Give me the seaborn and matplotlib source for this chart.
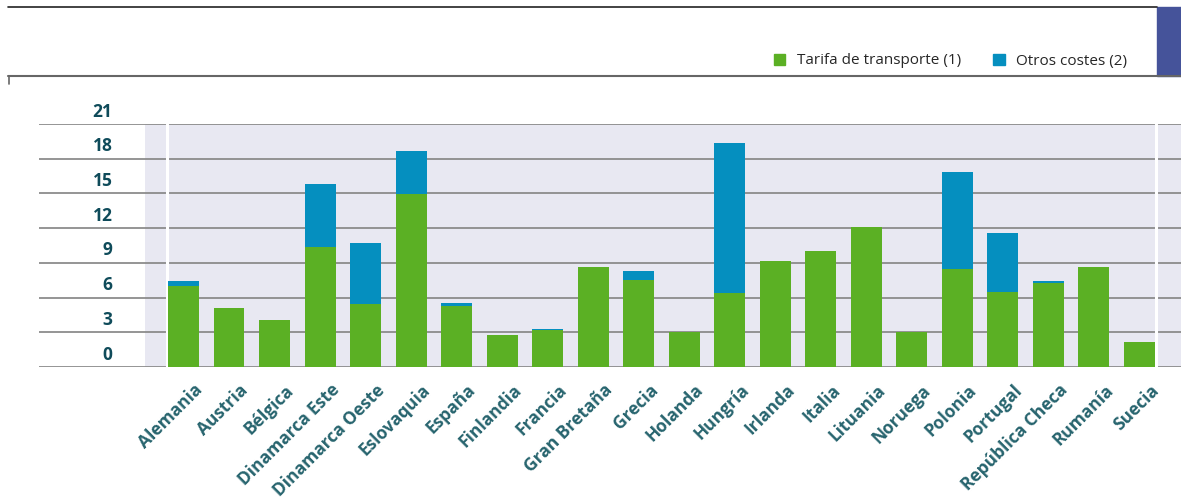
import matplotlib.pyplot as plt
import seaborn as sns
from matplotlib.lines import Line2D
from matplotlib.patches import Patch, Rectangle
from matplotlib.transforms import ScaledTranslation

paises = ["Alemania", "Austria", "Bélgica", "Dinamarca Este", "Dinamarca Oeste",
          "Eslovaquia", "España", "Finlandia", "Francia", "Gran Bretaña", "Grecia",
          "Holanda", "Hungría", "Irlanda", "Italia", "Lituania", "Noruega", "Polonia",
          "Portugal", "República Checa", "Rumanía", "Suecia"]
tarifa = [7.0, 5.1, 4.07, 10.38, 5.45, 14.97, 5.28, 2.77, 3.2, 8.65, 7.53,
          3.03, 6.4, 9.17, 10.04, 12.11, 3.03, 8.48, 6.49, 7.27, 8.65, 2.16]
otros = [0.44, 0.0, 0.0, 5.45, 5.28, 3.72, 0.26, 0.0, 0.09, 0.0, 0.78,
         0.0, 12.98, 0.0, 0.0, 0.0, 0.0, 8.39, 5.11, 0.17, 0.0, 0.0]
yticks = [0, 3, 6, 9, 12, 15, 18, 21]

verde = "#5bb024"
azul = "#058fbf"
lavanda = "#e8e8f2"
texto = "#27646e"

sns.set_style("white")
plt.rcParams["font.family"] = ["Open Sans", "DejaVu Sans"]

W, H = 1181, 497
fig = plt.figure(figsize=(W / 100, H / 100), dpi=100)
ax = fig.add_axes([39 / W, (H - 367) / H, (W - 39) / W, 243 / H])

total = [t + o for t, o in zip(tarifa, otros)]
sns.barplot(x=paises, y=total, color=azul, width=0.68, saturation=1, ax=ax,
            zorder=3, linewidth=0, edgecolor="none")
sns.barplot(x=paises, y=tarifa, color=verde, width=0.68, saturation=1, ax=ax,
            zorder=4, linewidth=0, edgecolor="none")

ax.set_xlim(-3.174, 21.913)
ax.set_ylim(0, 21)
ax.axvspan(-0.846, 21.913, color=lavanda, zorder=0, lw=0)
for xv in (-0.362, 21.354):
    ax.axvline(xv, color="white", lw=2.2, zorder=1)

ax.set_axisbelow(True)
ax.set_yticks(yticks)
ax.yaxis.grid(True, color="#8c8c8c", lw=1.3, zorder=0.5)
ax.xaxis.grid(False)
for s in ax.spines.values():
    s.set_visible(False)
ax.set_xlabel("")
ax.set_ylabel("")

ax.tick_params(axis="y", length=0, pad=-53, labelsize=12.5, labelcolor="#0f4b5a")
for lab in ax.get_yticklabels():
    lab.set_fontweight("bold")
    lab.set_transform(lab.get_transform() + ScaledTranslation(0, 0.145, fig.dpi_scale_trans))

ax.tick_params(axis="x", length=0, pad=0)
ax.set_xticks(range(len(paises)))
ax.set_xticklabels(paises, rotation=45, ha="right", va="center", rotation_mode="anchor",
                   fontsize=12.5, fontweight="bold", color=texto)
for lab in ax.get_xticklabels():
    lab.set_transform(lab.get_transform() + ScaledTranslation(0.165, -0.205, fig.dpi_scale_trans))

# cabecera: lineas y bloque azul
fig.add_artist(Line2D([8 / W, 1157 / W], [1 - 7 / H, 1 - 7 / H], color="#222222", lw=1.2))
fig.add_artist(Line2D([8 / W, 1], [1 - 76 / H, 1 - 76 / H], color="#666666", lw=1.5))
fig.add_artist(Line2D([8.5 / W, 8.5 / W], [1 - 76 / H, 1 - 84 / H], color="#666666", lw=1.2))
fig.add_artist(Rectangle((1157 / W, 1 - 76 / H), 24 / W, 69 / H, color="#45539a",
                         transform=fig.transFigure))

handles = [Patch(color=verde), Patch(color=azul)]
fig.legend(handles, ["Tarifa de transporte (1)", "Otros costes (2)"], loc="center left",
           bbox_to_anchor=(774 / W, 1 - 61 / H), ncol=2, frameon=False, fontsize=11,
           handlelength=0.75, handleheight=0.75, handletextpad=0.75, columnspacing=2.1,
           borderaxespad=0, borderpad=0)

fig.savefig("out.png", dpi=100)
